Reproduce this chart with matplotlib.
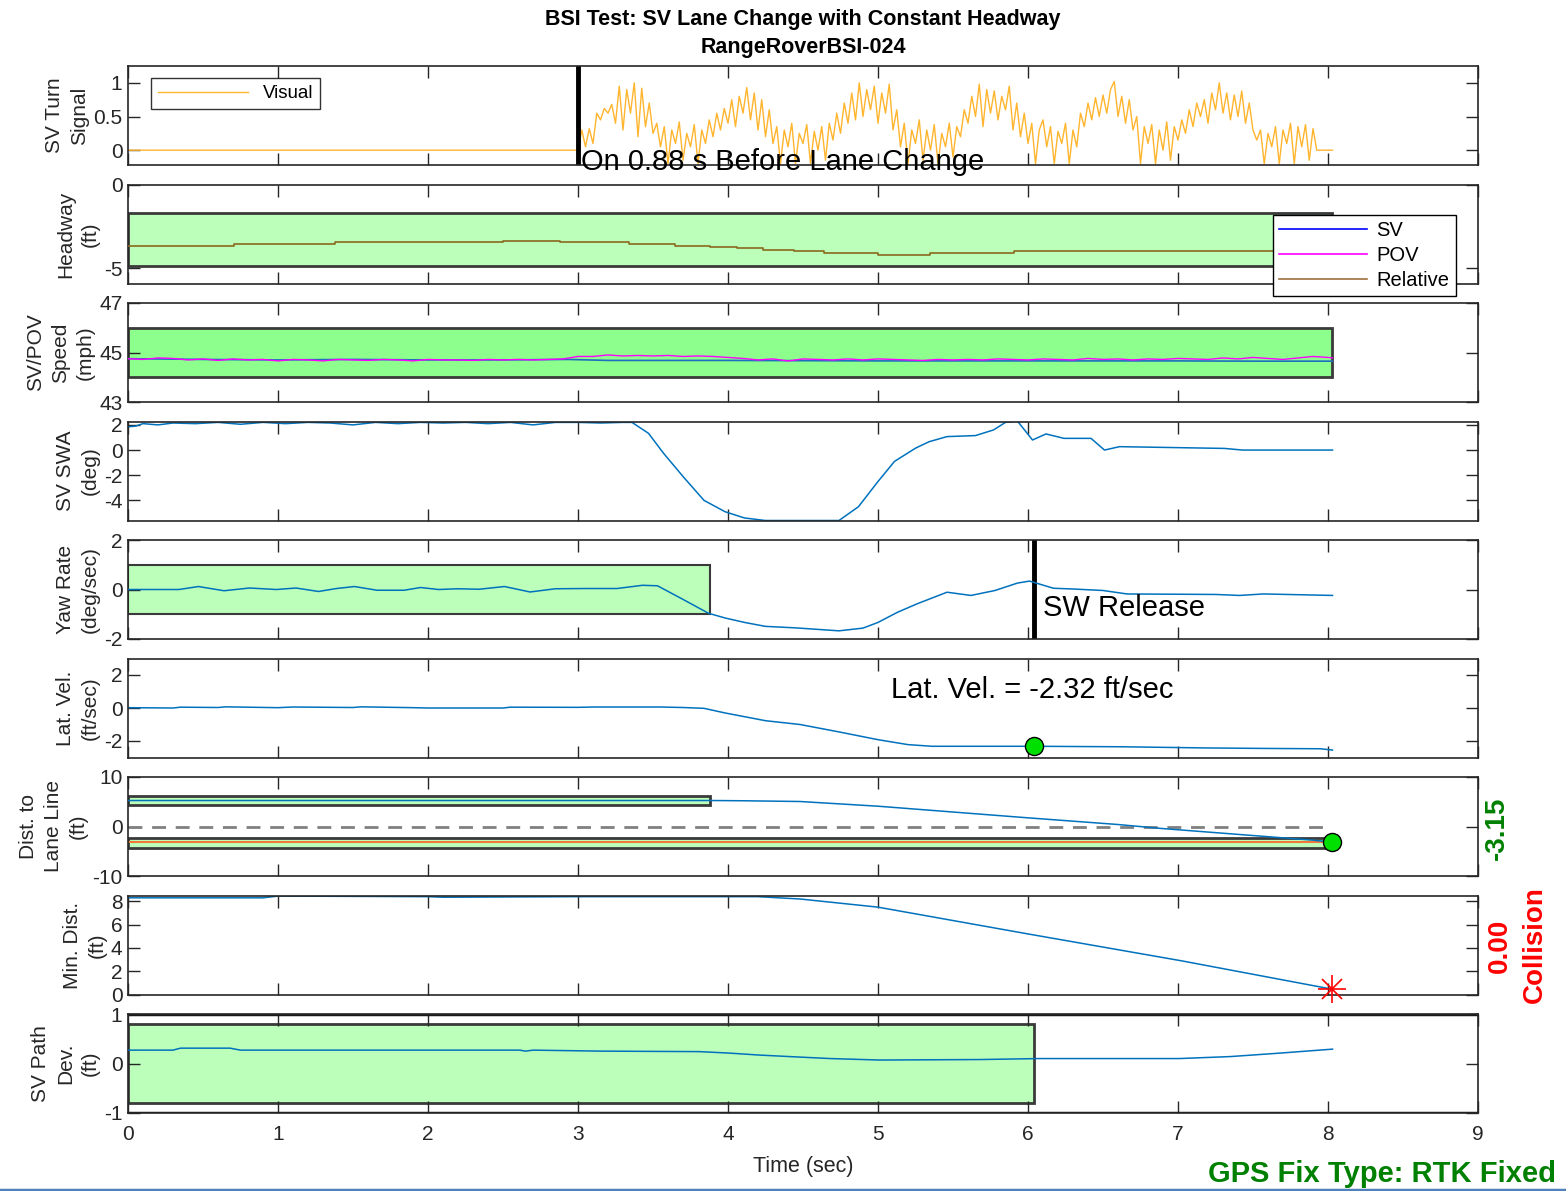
import numpy as np
import matplotlib
matplotlib.use("Agg")
import matplotlib.pyplot as plt
from matplotlib.patches import Rectangle
from matplotlib.lines import Line2D

plt.rcParams['font.family'] = ['Liberation Sans', 'DejaVu Sans']
plt.rcParams['axes.unicode_minus'] = False

FRAME = '#262626'
BLUE = '#0072BD'
LIGHT_GREEN = '#BBFFBB'
BRIGHT_GREEN = '#8CFF8C'

# turn signal (visual), sampled every 0.025 s from 3.0 s
turn_vals = [
    0.00, 0.30, 0.05, 0.32, 0.10, 0.55, 0.45, 0.62, 0.55, 0.68, 0.40, 0.95, 0.30, 0.90, 0.55, 1.00, 0.20, 0.92, 0.35, 0.70,
    0.25, 0.40, 0.05, 0.35, -0.20, 0.30, 0.10, 0.42, -0.15, 0.25, 0.05, 0.38, -0.20, 0.30, 0.10, 0.45, 0.20, 0.55, 0.30, 0.62,
    0.40, 0.75, 0.35, 0.80, 0.55, 0.93, 0.45, 0.85, 0.30, 0.75, 0.20, 0.60, 0.10, 0.35, -0.20, 0.30, 0.05, 0.40, -0.20, 0.25,
    0.10, 0.38, -0.20, 0.28, 0.00, 0.35, -0.15, 0.40, 0.15, 0.55, 0.25, 0.70, 0.40, 0.85, 0.45, 1.00, 0.50, 0.90, 0.60, 0.95,
    0.40, 0.85, 0.55, 0.98, 0.30, 0.60, 0.05, 0.40, -0.20, 0.30, 0.10, 0.45, -0.15, 0.30, 0.00, 0.38, -0.20, 0.25, 0.05, 0.40,
    -0.10, 0.35, 0.20, 0.60, 0.40, 0.80, 0.50, 0.98, 0.35, 0.90, 0.55, 0.88, 0.45, 0.80, 0.60, 0.95, 0.30, 0.70, 0.20, 0.55,
    0.10, 0.40, -0.20, 0.30, 0.45, 0.05, 0.35, -0.20, 0.28, 0.10, 0.40, -0.20, 0.30, 0.05, 0.55, 0.35, 0.70, 0.45, 0.78, 0.50,
    0.82, 0.55, 0.90, 1.02, 0.50, 0.80, 0.40, 0.75, 0.30, 0.50, -0.20, 0.35, 0.10, 0.38, -0.20, 0.30, 0.00, 0.42, -0.15, 0.35,
    0.15, 0.45, 0.25, 0.60, 0.35, 0.70, 0.50, 0.75, 0.40, 0.85, 0.60, 1.00, 0.55, 0.85, 0.45, 0.82, 0.50, 0.88, 0.40, 0.70,
    0.30, 0.15, 0.30, -0.20, 0.25, 0.05, 0.35, -0.20, 0.30, 0.10, 0.40, -0.20, 0.35, 0.05, 0.38, -0.15, 0.32, 0.00, 0.00, 0.00,
]
turn_t = np.concatenate([[0.0], np.arange(3.0, 7.99, 0.025), [8.0, 8.03]])
turn = np.concatenate([[0.0], turn_vals, [0.0, 0.0]])
turn_on_time = 3.0
turn_lead = 0.88

# relative headway (ft)
head_t = [0, 0.71, 0.71, 1.38, 1.38, 2.5, 2.5, 2.88, 2.88, 3.34, 3.34, 3.65, 3.65, 3.88, 3.88, 4.06, 4.06,
          4.23, 4.23, 4.44, 4.44, 4.64, 4.64, 5.0, 5.0, 5.35, 5.35, 5.91, 5.91, 8.03]
head = [-3.65, -3.65, -3.55, -3.55, -3.45, -3.45, -3.35, -3.35, -3.45, -3.45, -3.55, -3.55, -3.65, -3.65,
        -3.73, -3.73, -3.81, -3.81, -3.9, -3.9, -3.98, -3.98, -4.08, -4.08, -4.18, -4.18, -4.08, -4.08, -3.98, -3.98]

# SV / POV speed (mph)
sv_t = [0, 0.5, 1.0, 1.5, 2.0, 2.5, 2.93, 3.2, 3.5, 4.0, 5.0, 6.0, 7.0, 7.5, 8.03]
sv_speed = [44.75, 44.72, 44.7, 44.72, 44.7, 44.7, 44.72, 44.68, 44.68, 44.68, 44.66, 44.66, 44.66, 44.65, 44.65]
pov_t = np.append(np.round(np.arange(0, 8.05, 0.1), 2), 8.03)
pov_speed = [44.75, 44.72, 44.78, 44.76, 44.7, 44.74, 44.68, 44.74, 44.7, 44.72,
             44.66, 44.72, 44.7, 44.66, 44.72, 44.7, 44.68, 44.72, 44.7, 44.66,
             44.72, 44.7, 44.7, 44.68, 44.72, 44.7, 44.72, 44.7, 44.72, 44.74,
             44.84, 44.84, 44.9, 44.86, 44.88, 44.86, 44.88, 44.84, 44.86, 44.84,
             44.8, 44.76, 44.7, 44.74, 44.66, 44.74, 44.72, 44.7, 44.74, 44.7,
             44.74, 44.72, 44.7, 44.68, 44.72, 44.7, 44.72, 44.7, 44.74, 44.72,
             44.7, 44.74, 44.72, 44.7, 44.76, 44.72, 44.74, 44.7, 44.74, 44.72,
             44.76, 44.74, 44.72, 44.78, 44.74, 44.8, 44.76, 44.72, 44.78, 44.84,
             44.8, 44.78]

# steering wheel angle (deg)
swa_t = [0, 0.05, 0.1, 0.2, 0.3, 0.45, 0.6, 0.75, 0.9, 1.05, 1.2, 1.35, 1.5, 1.65, 1.8, 1.95, 2.1, 2.25,
         2.4, 2.55, 2.7, 2.85, 3.0, 3.15, 3.3, 3.36, 3.47, 3.57, 3.70, 3.84, 3.98, 4.11, 4.25, 4.74, 4.87,
         5.0, 5.11, 5.25, 5.34, 5.46, 5.65, 5.77, 5.85, 5.93, 6.03, 6.12, 6.24, 6.42, 6.51, 6.61, 7.31, 7.43, 8.03]
swa = [1.85, 1.9, 2.1, 2.0, 2.15, 2.1, 2.2, 2.05, 2.2, 2.1, 2.2, 2.15, 2.0, 2.2, 2.1, 2.2, 2.15, 2.2,
       2.1, 2.2, 2.0, 2.2, 2.2, 2.15, 2.2, 2.2, 1.33, -0.25, -2.1, -4.0, -4.9, -5.4, -5.6, -5.6, -4.5,
       -2.5, -0.9, 0.15, 0.66, 1.07, 1.15, 1.6, 2.2, 2.3, 0.8, 1.28, 0.93, 0.93, 0.0, 0.27, 0.13, 0.0, 0.0]

# yaw rate (deg/sec)
yaw_t = [0, 0.34, 0.47, 0.64, 0.81, 0.99, 1.12, 1.27, 1.39, 1.51, 1.66, 1.84, 1.95, 2.07, 2.2, 2.34,
         2.51, 2.68, 2.85, 3.06, 3.26, 3.43, 3.53, 3.70, 3.87, 3.98, 4.11, 4.25, 4.45, 4.74, 4.90, 5.0,
         5.13, 5.26, 5.46, 5.62, 5.78, 5.93, 6.01, 6.17, 6.30, 6.50, 6.66, 7.25, 7.41, 7.57, 8.03]
yaw = [0, 0, 0.12, -0.05, 0.06, 0, 0.06, -0.08, 0.04, 0.12, -0.03, -0.03, 0.08, 0, 0.03, 0.01,
       0.12, -0.1, 0.03, 0.04, 0.04, 0.17, 0.15, -0.4, -0.96, -1.15, -1.33, -1.49, -1.55, -1.67, -1.56, -1.33,
       -0.92, -0.58, -0.11, -0.24, -0.04, 0.26, 0.34, 0.05, 0.02, -0.04, -0.18, -0.2, -0.24, -0.18, -0.24]
sw_release_time = 6.04

# lateral velocity (ft/sec)
lat_t = [0, 0.3, 0.35, 0.6, 0.65, 1.0, 1.1, 1.5, 1.55, 1.9, 2.0, 2.5, 2.55, 3.0, 3.1, 3.55, 3.7, 3.84,
         3.98, 4.25, 4.48, 4.74, 5.0, 5.2, 5.36, 6.04, 6.63, 7.18, 7.57, 7.95, 8.03]
lat_vel = [0.02, 0.0, 0.05, 0.03, 0.07, 0.02, 0.06, 0.03, 0.07, 0.02, 0.0, 0.0, 0.05, 0.04, 0.06, 0.06, 0.03, -0.02,
           -0.3, -0.77, -1.0, -1.45, -1.92, -2.22, -2.32, -2.32, -2.35, -2.42, -2.45, -2.47, -2.55]
lat_vel_at_release = -2.32

# distance to lane line (ft)
lane_t = [0, 3.88, 4.1, 4.48, 5.0, 6.0, 6.6, 6.89, 7.9, 8.03]
lane_dist = [5.25, 5.25, 5.2, 5.05, 4.1, 1.75, 0.4, -0.4, -2.76, -3.15]
final_lane_dist = -3.15

# minimum distance to POV (ft)
mind_t = [0, 0.9, 1.0, 2.0, 2.1, 3.0, 4.2, 4.48, 5.0, 6.0, 7.02, 8.03]
min_dist = [8.3, 8.3, 8.45, 8.4, 8.35, 8.4, 8.4, 8.2, 7.5, 5.2, 2.9, 0.45]

# path deviation (ft)
pd_t = [0, 0.3, 0.35, 0.68, 0.75, 2.61, 2.65, 2.7, 3.15, 3.81, 4.01, 4.21, 4.41, 4.68, 5.01, 5.68,
        6.08, 7.01, 7.35, 7.68, 8.03]
path_dev = [0.27, 0.27, 0.31, 0.31, 0.27, 0.27, 0.25, 0.27, 0.25, 0.24, 0.21, 0.17, 0.14, 0.1, 0.07, 0.08,
            0.1, 0.1, 0.14, 0.21, 0.29]

# tolerance bands: (t_start, t_end, low, high)
head_band = (0, 8.03, -4.88, -1.69)
speed_band = (0, 8.03, 44, 46)
yaw_band = (0, 3.88, -1, 1)
lane_band_upper = (0, 3.88, 4.35, 6.1)
lane_band_lower = (0, 8.03, -4.3, -2.3)
pd_band = (0, 6.04, -0.8, 0.8)

ylabels = ['SV Turn\nSignal', 'Headway\n(ft)', 'SV/POV\nSpeed\n(mph)', 'SV SWA\n(deg)',
           'Yaw Rate\n(deg/sec)', 'Lat. Vel.\n(ft/sec)', 'Dist. to\nLane Line\n(ft)',
           'Min. Dist.\n(ft)', 'SV Path\nDev.\n(ft)']
ylims = [(-0.22, 1.25), (-5.9, 0), (43, 47), (-5.6, 2.27), (-2, 2), (-3, 3), (-10, 10), (0, 8.5), (-1, 1)]
yticks = [[0, 0.5, 1], [-5, 0], [43, 45, 47], [-4, -2, 0, 2], [-2, 0, 2], [-2, 0, 2], [-10, 0, 10],
          [0, 2, 4, 6, 8], [-1, 0, 1]]


def band(ax, b, color, lw=1.5):
    t0, t1, lo, hi = b
    ax.add_patch(Rectangle((t0, lo), t1 - t0, hi - lo, facecolor=color, edgecolor='#3a3a3a',
                           linewidth=lw, zorder=1))


W, H = 1566, 1191
fig = plt.figure(figsize=(W / 100, H / 100), dpi=100)
left, right = 128, 1478
axes = []
for i in range(9):
    top = 66 + i * 118.5
    ax = fig.add_axes([left / W, 1 - (top + 99) / H, (right - left) / W, 99 / H])
    ax.set_xlim(0, 9)
    ax.set_ylim(*ylims[i])
    ax.set_yticks(yticks[i])
    ax.set_yticklabels([('%g' % v) for v in yticks[i]])
    ax.set_xticks(range(10))
    ax.tick_params(direction='in', length=8.5, width=1, colors=FRAME, labelsize=15,
                   top=True, right=True, labelbottom=(i == 8), pad=4)
    ax.tick_params(axis='x', pad=9)
    for s in ax.spines.values():
        s.set_color(FRAME)
        s.set_linewidth(1.2)
    ax.set_ylabel(ylabels[i], fontsize=15, color=FRAME, linespacing=1.4, labelpad=3)
    axes.append(ax)

# turn signal
ax = axes[0]
ax.plot(turn_t, turn, color='#FFB52E', lw=1.0, label='Visual')
ax.axvline(turn_on_time, color='black', lw=3.5)
ax.text(turn_on_time + 0.02, -0.18, 'On %.2f s Before Lane Change' % turn_lead, fontsize=21,
        va='center', ha='left', clip_on=False, zorder=5)
ax.legend(loc='upper left', bbox_to_anchor=(0.017, 0.875), fontsize=13.5, frameon=True, fancybox=False,
          edgecolor='black', handlelength=4.8, borderpad=0.35, borderaxespad=0)

# headway
ax = axes[1]
band(ax, head_band, LIGHT_GREEN, lw=2)
rel_line, = ax.plot(head_t, head, color='#8A6A1E', lw=1.2, zorder=3)

# speeds
ax = axes[2]
band(ax, speed_band, BRIGHT_GREEN, lw=2)
sv_line, = ax.plot(sv_t, sv_speed, color='#1f6fbf', lw=1.2, zorder=3)
pov_line, = ax.plot(pov_t, pov_speed, color='#FF00FF', lw=1.0, zorder=4)

handles = [Line2D([], [], color='#0000FF', lw=1.2), Line2D([], [], color='#FF00FF', lw=1.2),
           Line2D([], [], color='#A0703C', lw=1.2)]
leg = axes[1].legend(handles, ['SV', 'POV', 'Relative'], loc='upper left', bbox_to_anchor=(0.848, 0.69),
                     fontsize=14.5, fancybox=False, edgecolor='black', handlelength=4.4, handletextpad=0.45,
                     borderpad=0.3, labelspacing=0.3, borderaxespad=0, framealpha=1)
leg.set_zorder(20)

# steering wheel angle
axes[3].plot(swa_t, swa, color=BLUE, lw=1.1)

# yaw rate
ax = axes[4]
band(ax, yaw_band, LIGHT_GREEN)
ax.plot(yaw_t, yaw, color=BLUE, lw=1.1, zorder=3)
ax.axvline(sw_release_time, color='black', lw=3.5)
ax.text(sw_release_time + 0.06, -0.75, 'SW Release', fontsize=21, va='center', ha='left')

# lateral velocity
ax = axes[5]
ax.plot(lat_t, lat_vel, color=BLUE, lw=1.1)
ax.plot(sw_release_time, lat_vel_at_release, 'o', ms=13, mfc='#00E000', mec='black', mew=1, zorder=5)
ax.text(5.09, 1.1, 'Lat. Vel. = %.2f ft/sec' % lat_vel_at_release, fontsize=21, va='center', ha='left')

# distance to lane line
ax = axes[6]
band(ax, lane_band_upper, LIGHT_GREEN, lw=2)
band(ax, lane_band_lower, LIGHT_GREEN, lw=2)
ax.plot([0, 8.03], [final_lane_dist, final_lane_dist], color='#F07838', lw=1.5, zorder=2)
ax.plot([0, 8.03], [0, 0], color='#808080', lw=2, dashes=(5, 3.5), zorder=2)
ax.plot(lane_t, lane_dist, color=BLUE, lw=1.1, zorder=3)
ax.plot(lane_t[-1], final_lane_dist, 'o', ms=13, mfc='#00E000', mec='black', mew=1, zorder=5,
        clip_on=False)

# minimum distance
ax = axes[7]
ax.plot(mind_t, min_dist, color=BLUE, lw=1.1)
ax.plot(mind_t[-1], min_dist[-1], marker='+', ms=20, color='red', mew=1.2, clip_on=False, zorder=5)
ax.plot(mind_t[-1], min_dist[-1], marker='x', ms=14, color='red', mew=1.2, clip_on=False, zorder=5)

# path deviation
ax = axes[8]
band(ax, pd_band, LIGHT_GREEN, lw=2)
ax.axhline(1, color='#1a1a1a', lw=2.5, zorder=2)
ax.axhline(-1, color='#1a1a1a', lw=2.5, zorder=2)
ax.plot(pd_t, path_dev, color=BLUE, lw=1.1, zorder=3)
ax.set_xlabel('Time (sec)', fontsize=15.5, color=FRAME, labelpad=8)

# titles and side notes
fig.text(803 / W, 1 - 19 / H, 'BSI Test: SV Lane Change with Constant Headway', fontsize=15.5,
         fontweight='bold', ha='center', va='center')
fig.text(803 / W, 1 - 48 / H, 'RangeRoverBSI-024', fontsize=15.5, fontweight='bold', ha='center', va='center')
fig.text(1497 / W, 1 - 828 / H, '%.2f' % final_lane_dist, fontsize=20, fontweight='bold', color='#008000',
         rotation=90, ha='center', va='center')
fig.text(1500 / W, 1 - 946 / H, '0.00', fontsize=20, fontweight='bold', color='#FF0000',
         rotation=90, ha='center', va='center')
fig.text(1535 / W, 1 - 945 / H, 'Collision', fontsize=20, fontweight='bold', color='#FF0000',
         rotation=90, ha='center', va='center')
fig.text(1556 / W, 1 - 1174 / H, 'GPS Fix Type: RTK Fixed', fontsize=21, fontweight='bold', color='#008000',
         ha='right', va='center')
fig.add_artist(Line2D([0, 1], [1 - 1189.5 / H, 1 - 1189.5 / H], color='#4F81BD', lw=2.5))

fig.savefig('out.png', dpi=100)
